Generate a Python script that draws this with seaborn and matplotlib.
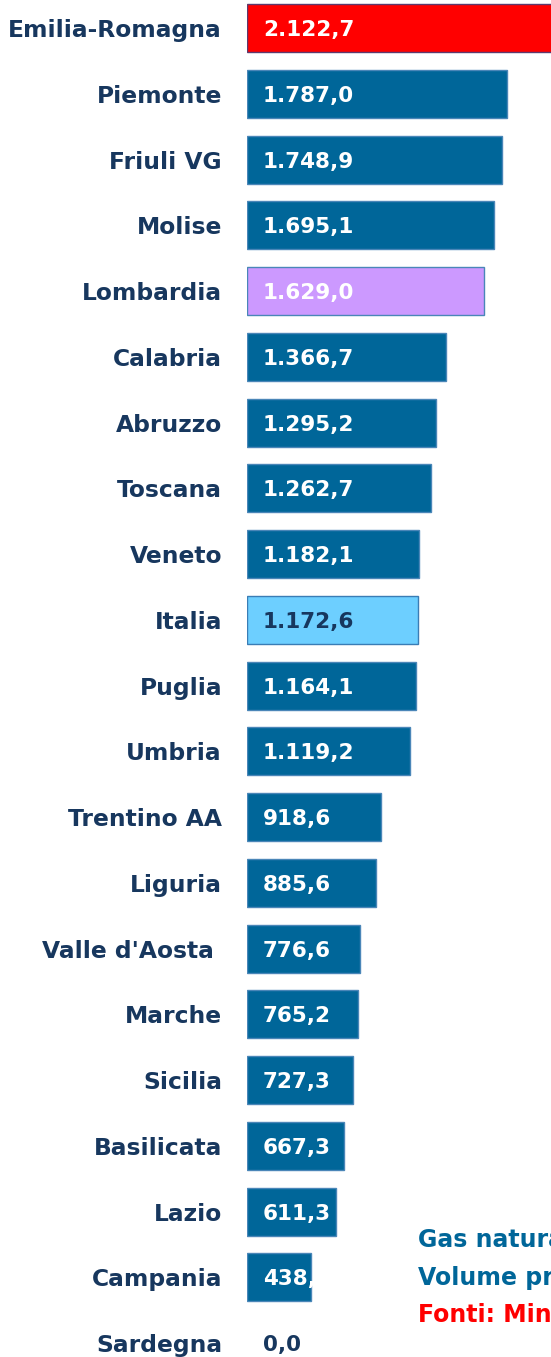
import matplotlib
matplotlib.use("Agg")
import matplotlib.pyplot as plt
import seaborn as sns

# data
regions = ["Emilia-Romagna", "Piemonte", "Friuli VG", "Molise", "Lombardia",
           "Calabria", "Abruzzo", "Toscana", "Veneto", "Italia", "Puglia",
           "Umbria", "Trentino AA", "Liguria", "Valle d'Aosta ", "Marche",
           "Sicilia", "Basilicata", "Lazio", "Campania", "Sardegna"]
values = [2122.7, 1787.0, 1748.9, 1695.1, 1629.0, 1366.7, 1295.2, 1262.7,
          1182.1, 1172.6, 1164.1, 1119.2, 918.6, 885.6, 776.6, 765.2,
          727.3, 667.3, 611.3, 438.5, 0.0]
note_lines = ["Gas naturale per uso domestico", "Volume pro capite (m³)",
              "Fonti: Ministero dello Sviluppo Economico"]

NAVY = "#17375E"
BLUE = "#006699"
colors = []
for r in regions:
    if r == "Emilia-Romagna":
        colors.append("#FF0000")
    elif r == "Lombardia":
        colors.append("#CC99FF")
    elif r == "Italia":
        colors.append("#6DCFFF")
    else:
        colors.append(BLUE)


def it_fmt(v):
    s = f"{v:,.1f}"
    return s.replace(",", "X").replace(".", ",").replace("X", ".")


sns.set_theme(style="white")
plt.rcParams['font.family'] = ['DejaVu Sans']

fig = plt.figure(figsize=(5.51, 13.57), dpi=100)
ax = fig.add_axes([247 / 551, 0, (551 - 247) / 551, 1])

sns.barplot(x=values, y=regions, hue=regions, palette=colors, legend=False,
            orient="h", width=0.73, saturation=1, ax=ax)

for patch, r, v in zip(ax.patches, regions, values):
    if v == 0:
        patch.set_linewidth(0)
        continue
    if r == "Emilia-Romagna":
        patch.set_edgecolor("#5E3A6E")
    elif r == "Italia":
        patch.set_edgecolor("#3A7DB5")
    else:
        patch.set_edgecolor("#4A86B8")
    patch.set_linewidth(1.0)

ax.set_xlim(0, 2088)
ax.set_ylim(20.21, -0.426)

# value labels inside bars
for i, (r, v) in enumerate(zip(regions, values)):
    col = NAVY if r in ("Italia", "Sardegna") else "white"
    ax.text(110, i + 0.03, it_fmt(v), color=col, fontsize=15.5, fontweight="bold",
            va="center", ha="left", clip_on=True)

ax.set_xlabel("")
ax.set_ylabel("")
ax.set_xticks([])
ax.tick_params(axis="y", length=0, pad=18)
for lbl in ax.get_yticklabels():
    lbl.set_color(NAVY)
    lbl.set_fontweight("bold")
    lbl.set_fontsize(16.8)
for s in ax.spines.values():
    s.set_visible(False)

# note in the bottom right corner (cut at the right edge, as in the source)
note_colors = [BLUE, BLUE, "#FF0000"]
for k, (line, c) in enumerate(zip(note_lines, note_colors)):
    fig.text(418 / 551, 1 - (1240 + 37.5 * k) / 1357, line, color=c,
             fontsize=17, fontweight="bold", va="center", ha="left")

fig.savefig("out.png", dpi=100, facecolor="white")
